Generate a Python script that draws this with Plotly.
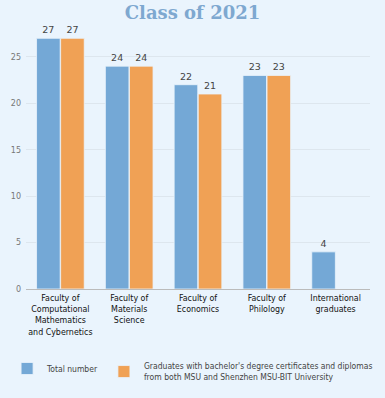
import plotly.graph_objects as go

categories = [
    "Faculty of<br>Computational<br>Mathematics<br>and Cybernetics",
    "Faculty of<br>Materials<br>Science",
    "Faculty of<br>Economics",
    "Faculty of<br>Philology",
    "International<br>graduates",
]
total_number = [27, 24, 22, 23, 4]
dual_diploma = [27, 24, 21, 23, None]

names = ["Total number",
         "Graduates with bachelor's degree certificates and diplomas<br>from both MSU and Shenzhen MSU-BIT University"]

fig = go.Figure()
fig.add_trace(go.Bar(x=categories, y=total_number, name=names[0],
                     marker=dict(color="#74A8D6", line=dict(color="#EAF4FD", width=0.8)),
                     text=total_number, textposition="outside", cliponaxis=False,
                     textfont=dict(size=9.5, color="#444", family="DejaVu Sans")))
fig.add_trace(go.Bar(x=categories, y=dual_diploma, name=names[1],
                     marker=dict(color="#F0A155", line=dict(color="#EAF4FD", width=0.8)),
                     text=dual_diploma, textposition="outside", cliponaxis=False,
                     textfont=dict(size=9.5, color="#444", family="DejaVu Sans")))

fig.update_layout(
    width=385, height=398,
    paper_bgcolor="#EAF4FD", plot_bgcolor="#EAF4FD",
    margin=dict(l=26, r=15, t=29, b=109, autoexpand=False),
    barmode="group", bargap=0.3, bargroupgap=0.02,
    title=dict(text="<b>Class of 2021</b>", x=0.5, xanchor="center", y=0.968, yanchor="middle",
               font=dict(family="DejaVu Serif", size=18, color="#7EA8D0")),
    xaxis=dict(showgrid=False, automargin=False,
               tickfont=dict(size=8.8, color="#111", family="DejaVu Sans Condensed"),
               showline=True, linecolor="#BBBBBB", linewidth=1, ticks=""),
    yaxis=dict(range=[0, 28], dtick=5, showgrid=True, gridcolor="#DDE6EE", gridwidth=1, automargin=False,
               zeroline=False, tickfont=dict(size=8, color="#777", family="DejaVu Sans"), ticks="", showline=False,
               ticklabelstandoff=4),
    legend=dict(orientation="h", x=-0.055, xanchor="left", y=-0.25, yanchor="top",
                font=dict(size=8.5, color="#444", family="DejaVu Sans Condensed"),
                itemwidth=30, traceorder="normal", valign="middle"),
    showlegend=True,
)
fig.write_html("out.html", config={"displayModeBar": False},
               post_script="document.body.style.margin='0';document.documentElement.style.margin='0';")
